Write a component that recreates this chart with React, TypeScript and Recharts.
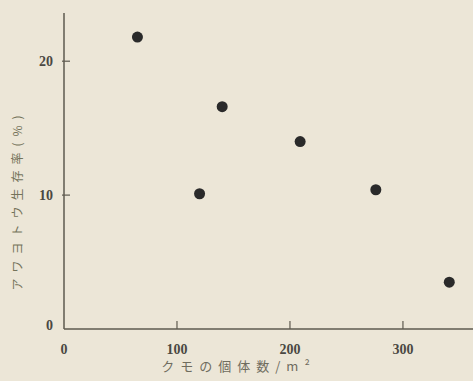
import React from 'react';
import { ScatterChart, Scatter, XAxis, YAxis, Label } from 'recharts';

const spiderDensity = [65, 120, 140, 209, 276, 341];
const survivalRate = [21.8, 10.1, 16.6, 14.0, 10.4, 3.5];
const xTicks = [0, 100, 200, 300];
const yTicks = [0, 10, 20];
const xTitle = 'クモの個体数/m²';
const yTitle = 'アワヨトウ生存率(%)';

const data = spiderDensity.map((x, i) => ({ x, y: survivalRate[i] }));

const W = 473;
const H = 381;
const BG = '#ece6d7';
const AXIS = '#5e5a4f';
const TEXT = '#4a4842';
const NUM_FONT = '"Liberation Serif", "DejaVu Serif", serif';
const JP_FONT = '"Noto Sans CJK JP", sans-serif';

const Y_MARGIN = 9;
const X_MARGIN = 15;
const TICK_LEN = 8;

const YTick = (props: any) => {
  const { x, y, payload } = props;
  const axisX = x + Y_MARGIN;
  return (
    <g>
      {payload.value !== 0 && (
        <line x1={axisX} x2={axisX + TICK_LEN} y1={y} y2={y} stroke={AXIS} strokeWidth={1.2} />
      )}
      <text x={x} y={y} dy={payload.value === 0 ? '0.1em' : '0.355em'} textAnchor="end" fontFamily={NUM_FONT} fontWeight="bold" fontSize={14} fill={TEXT}>
        {payload.value}
      </text>
    </g>
  );
};

const XTick = (props: any) => {
  const { x, y, payload } = props;
  const axisY = y - X_MARGIN;
  return (
    <g>
      {payload.value !== 0 && (
        <line x1={x} x2={x} y1={axisY} y2={axisY - TICK_LEN} stroke={AXIS} strokeWidth={1.2} />
      )}
      <text x={x} y={y} dy="0.71em" textAnchor="middle" fontFamily={NUM_FONT} fontWeight="bold" fontSize={14} fill={TEXT}>
        {payload.value}
      </text>
    </g>
  );
};

const XTitle = (props: any) => {
  const vb = props.viewBox;
  return (
    <text
      x={vb.x + vb.width / 2 - 30}
      y={vb.y + vb.height - 10}
      textAnchor="middle"
      fontFamily={JP_FONT}
      fontSize={13}
      letterSpacing={6}
      fill="#6f6c5e"
    >
      {xTitle}
    </text>
  );
};

const YTitle = (props: any) => {
  const vb = props.viewBox;
  const cx = vb.x + 18;
  const cy = 200;
  return (
    <text
      x={cx}
      y={cy}
      dy="0.35em"
      textAnchor="middle"
      fontFamily={JP_FONT}
      fontSize={12}
      letterSpacing={6}
      fill="#74735a"
      transform={`rotate(-90 ${cx} ${cy})`}
    >
      {yTitle}
    </text>
  );
};

export default function App() {
  return (
    <div style={{ position: 'absolute', left: 0, top: 0, width: W, height: H, background: BG }}>
      <ScatterChart width={W} height={H} margin={{ top: 13, right: 0, left: 0, bottom: 0 }}>
        <XAxis
          type="number"
          dataKey="x"
          domain={[0, 362]}
          ticks={xTicks}
          height={52}
          tickSize={0}
          tickMargin={X_MARGIN}
          tick={<XTick />}
          axisLine={{ stroke: AXIS, strokeWidth: 1.5 }}
          allowDataOverflow
        >
          <Label content={<XTitle />} />
        </XAxis>
        <YAxis
          type="number"
          dataKey="y"
          domain={[0, 23.6]}
          ticks={yTicks}
          width={64}
          tickSize={0}
          tickMargin={Y_MARGIN + 2}
          tick={<YTick />}
          axisLine={{ stroke: AXIS, strokeWidth: 1.5 }}
          allowDataOverflow
        >
          <Label content={<YTitle />} />
        </YAxis>
        <Scatter data={data} fill="#2a2a2a" isAnimationActive={false} shape={(p: any) => <circle cx={p.cx} cy={p.cy} r={5.5} fill="#2a2a2a" />} />
      </ScatterChart>
    </div>
  );
}
